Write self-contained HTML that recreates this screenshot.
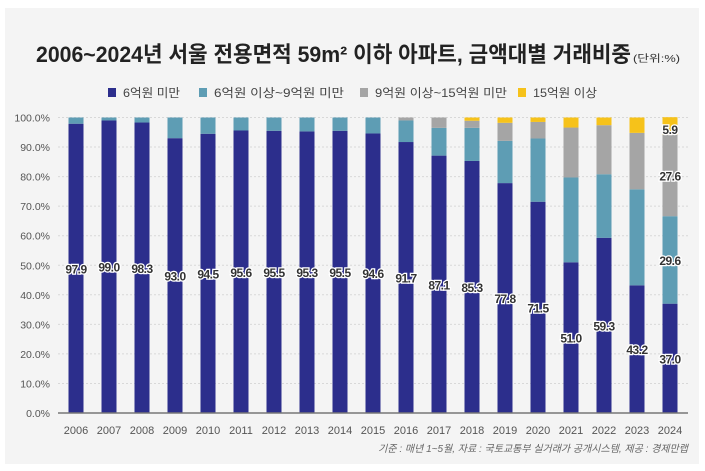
<!DOCTYPE html>
<html><head><meta charset="utf-8"><style>
body{margin:0;background:#fff;width:705px;height:471px;overflow:hidden;font-family:"Liberation Sans","Noto Sans CJK KR",sans-serif}
#card{position:absolute;left:5px;top:8px;width:694px;height:456px;background:#f4f4f4}
</style></head><body>
<div id="card"></div>
<svg id="c" width="705" height="471" style="position:absolute;left:0;top:0"></svg>
<script>
const years=["2006","2007","2008","2009","2010","2011","2012","2013","2014","2015","2016","2017","2018","2019","2020","2021","2022","2023","2024"];
const s1=[97.9,99.0,98.3,93.0,94.5,95.6,95.5,95.3,95.5,94.6,91.7,87.1,85.3,77.8,71.5,51.0,59.3,43.2,37.0];
const s2=[2.1,1.0,1.7,7.0,5.5,4.4,4.5,4.7,4.5,5.4,7.3,9.4,11.2,14.3,21.4,28.7,21.5,32.5,29.6];
const s3=[0,0,0,0,0,0,0,0,0,0,1.0,3.5,2.4,6.1,5.6,16.9,16.6,19.1,27.6];
const s4=[0,0,0,0,0,0,0,0,0,0,0,0,1.1,1.8,1.5,3.4,2.6,5.2,5.9];
const ticks=[0,10,20,30,40,50,60,70,80,90,100];
const seriesNames=["6억원 미만","6억원 이상~9억원 미만","9억원 이상~15억원 미만","15억원 이상"];
const colors=["#2c2e8c","#5e9db4","#a5a5a5","#f6c21a"];
const NS="http://www.w3.org/2000/svg",svg=document.getElementById('c');
function el(t,a,txt){const e=document.createElementNS(NS,t);for(const k in a)e.setAttribute(k,a[k]);if(txt!=null)e.textContent=txt;svg.appendChild(e);return e;}
const y0=413,y100=117.5;
const Y=v=>y0-(y0-y100)*v/100;
const X=i=>76+i*33;
const bw=15;
// title
let t=el('text',{x:36,y:62,'font-size':22,'font-weight':'bold',fill:'#222',textLength:595,lengthAdjust:'spacingAndGlyphs'},'2006~2024년 서울 전용면적 59m² 이하 아파트, 금액대별 거래비중');

let u=el('text',{x:633,y:62,'font-size':10,fill:'#333',textLength:47,lengthAdjust:'spacingAndGlyphs'},'(단위:%)');

// legend
const lx=[108,199,360,518];
const lw=[57,130,132,64];
seriesNames.forEach((n,i)=>{
 const r=el('rect',{x:lx[i],y:88,width:8,height:9,fill:colors[i]});
 
 const tx=el('text',{x:lx[i]+15,y:97,'font-size':12,fill:'#444',textLength:lw[i],lengthAdjust:'spacingAndGlyphs'},n);
 
});
// grid + y ticks
ticks.forEach(v=>{
 if(v>0){const g=el('line',{x1:58,x2:688,y1:Y(v),y2:Y(v),stroke:'#d8d8d8','stroke-dasharray':'2,2'});}
 const l=el('text',{x:50,y:Y(v)+4,'text-anchor':'end','font-size':10.5,fill:'#555'},v.toFixed(1)+'%');
 
});
// bars
const all=[s1,s2,s3,s4];
years.forEach((yr,i)=>{
 let acc=0;
 all.forEach((s,k)=>{
  const v=s[i];if(v<=0)return;
  const r=el('rect',{x:X(i)-bw/2,y:Y(acc+v),width:bw,height:Y(acc)-Y(acc+v),fill:colors[k]});
  
  acc+=v;
 });
 const xl=el('text',{x:X(i),y:434,'text-anchor':'middle','font-size':11,fill:'#555'},yr);
 
 const vl=el('text',{x:X(i),y:Y(s1[i]/2)+5,'text-anchor':'middle','font-size':12,'font-weight':'bold',fill:'#333',stroke:'#fff','stroke-width':2.5,'paint-order':'stroke','letter-spacing':'-0.5'},s1[i].toFixed(1));
 
});
// 2024 extra labels
const L=years.length-1;
[[s2,s1[L]+s2[L]/2],[s3,s1[L]+s2[L]+s3[L]/2],[s4,100-s4[L]/2-1]].forEach(([s,m],j)=>{
 const vl=el('text',{x:X(L),y:Y(m)+5,'text-anchor':'middle','font-size':12,'font-weight':'bold',fill:'#333',stroke:'#fff','stroke-width':2.5,'paint-order':'stroke','letter-spacing':'-0.5'},s[L].toFixed(1));
 
});
const ax=el('line',{x1:58,x2:688,y1:y0,y2:y0,stroke:'#777','stroke-width':1.5});

const src=el('text',{x:688,y:452,'text-anchor':'end','font-size':10,'font-style':'italic',fill:'#666'},'기준 : 매년 1~5월, 자료 : 국토교통부 실거래가 공개시스템, 제공 : 경제만랩');

</script>
</body></html>
